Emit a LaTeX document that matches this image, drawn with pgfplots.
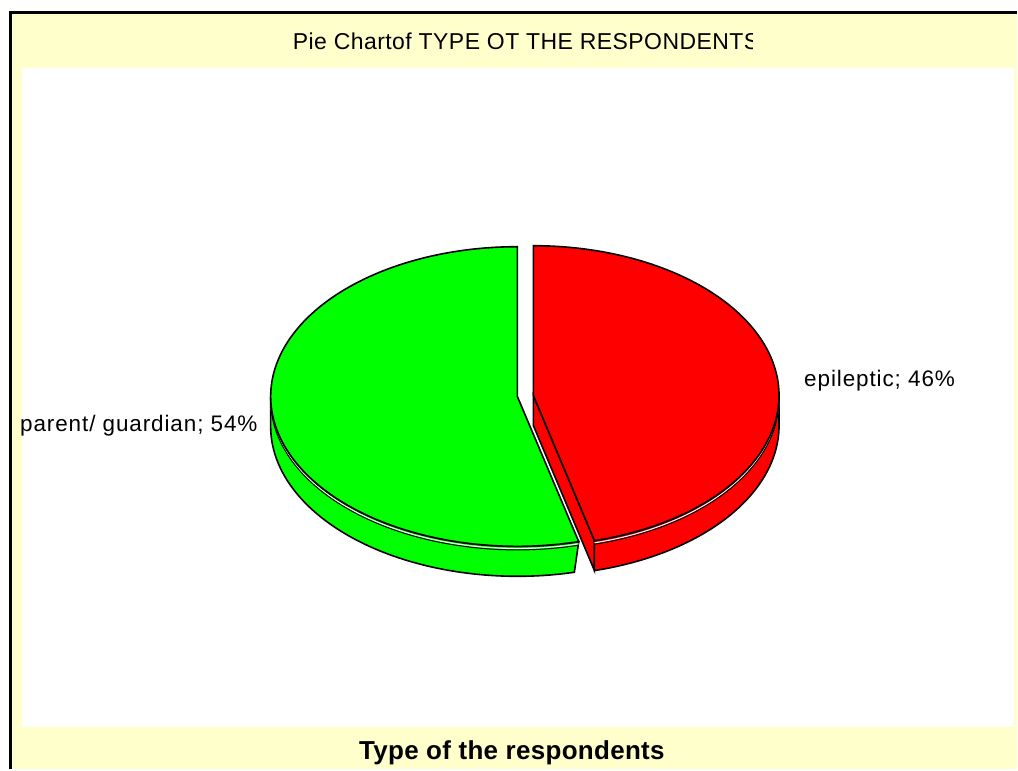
\documentclass[border=0pt]{standalone}
\usepackage{pgfplots}
\pgfplotsset{compat=1.18}
\usepackage{fontspec}
\setmainfont{Liberation Sans}
\newfontfamily\lblfont[LetterSpace=4]{Liberation Sans}
\newfontfamily\titfont[LetterSpace=2]{Liberation Sans}
\newfontfamily\botfont[LetterSpace=1.2]{Liberation Sans}
\definecolor{bgyellow}{HTML}{FFFFCC}
\definecolor{pgreen}{HTML}{00FF00}
\definecolor{pred}{HTML}{FF0000}
\begin{document}
\begin{tikzpicture}
% shares in percent
\def\pepi{46}
\def\ppar{54}
\pgfmathsetmacro\aR{90-3.6*\pepi}
\pgfmathsetmacro\aG{90+3.6*\ppar}
% geometry (pixel-like units)
\def\gcx{518}\def\gcy{397}\def\grx{247}\def\gry{150}
\def\rcx{534}\def\rcy{396}\def\rrx{246}\def\rry{150}
\def\dep{30}
\pgfmathsetmacro\ex{\rcx+\rrx*cos(\aR)}
\pgfmathsetmacro\ey{\rcy-\rry*sin(\aR)}
\pgfmathsetmacro\eyb{\ey+\dep}
\pgfmathsetmacro\cyb{\rcy+\dep}
\begin{axis}[scale only axis, width=1018bp, height=770bp,
  xmin=0, xmax=1018, ymin=0, ymax=770, y dir=reverse,
  hide axis, clip=false]
\fill[white] (axis cs:0,0) rectangle (axis cs:1018,770);
\fill[bgyellow] (axis cs:10.5,12.3) rectangle (axis cs:1018,770);
\draw[line width=2.5bp] (axis cs:10.5,770) -- (axis cs:10.5,12.3) -- (axis cs:1018,12.3);
\fill[white] (axis cs:22,68) rectangle (axis cs:1015,727.5);
\begin{scope}
\clip (axis cs:0,0) rectangle (axis cs:753.5,68);
\node[anchor=base west, inner sep=0, font=\fontsize{23bp}{27bp}\titfont] at (axis cs:293,49.5) {Pie Chartof TYPE OT THE RESPONDENTS};
\end{scope}
\node[anchor=base, inner sep=0, font=\fontsize{26bp}{30bp}\botfont\bfseries] at (axis cs:512.5,760) {Type of the respondents};
% green side wall
\addplot[fill=pgreen, draw=black, line width=1.6bp, domain=0:2, samples=201, variable=\s]
  ({\gcx+\grx*cos(180+(\aG-180)*(\s-2*(\s-1)*(\s>1)))},
   {\gcy-\gry*sin(180+(\aG-180)*(\s-2*(\s-1)*(\s>1)))+\dep*(\s>1)}) -- cycle;
\addplot[white, line width=1bp, domain=180:\aG, samples=120] ({\gcx+\grx*cos(x)},{\gcy-\gry*sin(x)+2.2});
\addplot[black, line width=1bp, domain=180:\aG, samples=120] ({\gcx+\grx*cos(x)},{\gcy-\gry*sin(x)+3.6});
% green top
\addplot[fill=pgreen, draw=black, line width=1.6bp, domain=90:\aG, samples=160]
  ({\gcx+\grx*cos(x)},{\gcy-\gry*sin(x)}) -- (axis cs:\gcx,\gcy) -- cycle;
% red cut face
\addplot[fill=pred, draw=black, line width=1.6bp] coordinates {(\rcx,\rcy) (\ex,\ey) (\ex,\eyb) (\rcx,\cyb)} -- cycle;
% red side wall
\addplot[fill=pred, draw=black, line width=1.6bp, domain=0:2, samples=201, variable=\s]
  ({\rcx+\rrx*cos(\aR+(0-\aR)*(\s-2*(\s-1)*(\s>1)))},
   {\rcy-\rry*sin(\aR+(0-\aR)*(\s-2*(\s-1)*(\s>1)))+\dep*(\s>1)}) -- cycle;
\addplot[white, line width=1bp, domain=\aR:0, samples=100] ({\rcx+\rrx*cos(x)},{\rcy-\rry*sin(x)+2.2});
\addplot[black, line width=1bp, domain=\aR:0, samples=100] ({\rcx+\rrx*cos(x)},{\rcy-\rry*sin(x)+3.6});
% red top
\addplot[fill=pred, draw=black, line width=1.6bp, domain=\aR:90, samples=160]
  ({\rcx+\rrx*cos(x)},{\rcy-\rry*sin(x)}) -- (axis cs:\rcx,\rcy) -- cycle;
% labels
\node[anchor=base west, inner sep=0, font=\fontsize{22.5bp}{27bp}\lblfont] at (axis cs:805,386.5) {epileptic; 46\%};
\node[anchor=base west, inner sep=0, font=\fontsize{22.5bp}{27bp}\lblfont] at (axis cs:20,432) {parent/ guardian; 54\%};
\end{axis}
\end{tikzpicture}
\end{document}
